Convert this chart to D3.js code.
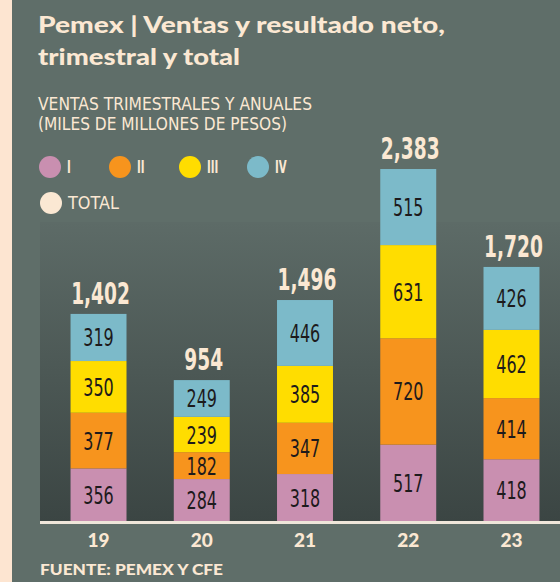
<!DOCTYPE html>
<html><head><meta charset="utf-8">
<script src="https://cdn.jsdelivr.net/npm/d3@7"></script>
<style>
html,body{margin:0;padding:0;background:#5f6e69;}
svg{display:block;}
.cond{font-family:"DejaVu Sans","Noto Sans",sans-serif;}
.geo{font-family:"Lato","Open Sans","Noto Sans",sans-serif;}
</style></head>
<body>
<svg id="chart" width="560" height="582"></svg>
<script>
const years = ["19","20","21","22","23"];
const q1 = [356, 284, 318, 517, 418];
const q2 = [377, 182, 347, 720, 414];
const q3 = [350, 239, 385, 631, 462];
const q4 = [319, 249, 446, 515, 426];
const totals = [1402, 954, 1496, 2383, 1720];
const seriesNames = ["I","II","III","IV"];
const seriesColors = ["#c98fb0","#f7941d","#ffdd00","#7cbac9"];

const svg = d3.select("#chart");
const W = 560, H = 582;
const cream = "#fbe8d3";

// condensed text helper
function ctext(parent, x, y, txt, opts){
  const g = parent.append("g").attr("transform",`translate(${x},${y}) scale(${opts.sx||0.65},1)`);
  const t = g.append("text").attr("class","cond").attr("x",0).attr("y",0)
    .attr("text-anchor",opts.anchor||"middle").attr("fill",opts.fill)
    .attr("font-size",opts.size).attr("font-weight",opts.weight||400).text(txt);
  if(opts.dy) t.attr("dy",opts.dy);
  return t;
}

// background
const defs = svg.append("defs");
const g1 = defs.append("linearGradient").attr("id","panel").attr("x1",0).attr("y1",0).attr("x2",0).attr("y2",1);
g1.append("stop").attr("offset","0%").attr("stop-color","#5d6b67");
g1.append("stop").attr("offset","100%").attr("stop-color","#3b4543");
svg.append("rect").attr("width",W).attr("height",H).attr("fill","#5f6e69");
svg.append("rect").attr("x",0).attr("y",0).attr("width",12).attr("height",H).attr("fill","#fde5d1");
svg.append("rect").attr("x",40).attr("y",222).attr("width",W-40).attr("height",300).attr("fill","url(#panel)");

// title
svg.append("text").attr("class","geo").attr("x",38).attr("y",33).attr("fill",cream)
  .attr("font-size",22).attr("font-weight",900).attr("textLength",407).attr("lengthAdjust","spacingAndGlyphs")
  .text("Pemex | Ventas y resultado neto,");
svg.append("text").attr("class","geo").attr("x",38).attr("y",65).attr("fill",cream)
  .attr("font-size",22).attr("font-weight",900).attr("textLength",202).attr("lengthAdjust","spacingAndGlyphs")
  .text("trimestral y total");
svg.append("text").attr("class","cond").attr("x",38).attr("y",110).attr("fill",cream)
  .attr("font-size",18).attr("textLength",274).attr("lengthAdjust","spacingAndGlyphs")
  .text("VENTAS TRIMESTRALES Y ANUALES");
svg.append("text").attr("class","cond").attr("x",38).attr("y",130).attr("fill",cream)
  .attr("font-size",18).attr("textLength",249).attr("lengthAdjust","spacingAndGlyphs")
  .text("(MILES DE MILLONES DE PESOS)");

// legend
const legX = [50,120,190,258];
seriesNames.forEach((n,i)=>{
  svg.append("circle").attr("cx",legX[i]).attr("cy",167).attr("r",11).attr("fill",seriesColors[i]);
  ctext(svg, legX[i]+17, 173, n, {anchor:"start", fill:cream, size:17, weight:700, sx:0.6});
});
svg.append("circle").attr("cx",51).attr("cy",203).attr("r",11).attr("fill",cream);
svg.append("text").attr("class","cond").attr("x",68).attr("y",209).attr("fill",cream)
  .attr("font-size",17).attr("textLength",51).attr("lengthAdjust","spacingAndGlyphs").text("TOTAL");

// scales
const x = d3.scaleBand().domain(years).range([46.9,563.1]).paddingInner(0.458).paddingOuter(0.229);
const y = d3.scaleLinear().domain([0,2400]).range([521,166.5]);

const data = years.map((yr,i)=>({year:yr, I:q1[i], II:q2[i], III:q3[i], IV:q4[i], total:totals[i]}));
const stack = d3.stack().keys(seriesNames)(data);

const layers = svg.append("g").selectAll("g").data(stack).join("g").attr("fill",(d,i)=>seriesColors[i]);
layers.selectAll("rect").data(d=>d).join("rect")
  .attr("x",d=>x(d.data.year)).attr("width",x.bandwidth())
  .attr("y",d=>y(d[1])).attr("height",d=>y(d[0])-y(d[1]));

const lab = svg.append("g");
stack.forEach(layer=>{
  layer.forEach(d=>{
    ctext(lab, x(d.data.year)+x.bandwidth()/2, (y(d[0])+y(d[1]))/2, d3.format(",")(d[1]-d[0]),
      {fill:"#1d1a1c", size:25, sx:0.64, dy:"0.36em"});
  });
});
data.forEach(d=>{
  ctext(svg, x(d.year)+x.bandwidth()/2+2, y(d.total)-10, d3.format(",")(d.total),
    {fill:cream, size:30, weight:700, sx:0.62});
});

// baseline
svg.append("line").attr("x1",40).attr("x2",W).attr("y1",522.5).attr("y2",522.5).attr("stroke","#efe6da").attr("stroke-width",3);

// x axis labels
const xAxis = d3.axisBottom(x).tickSize(0).tickPadding(0);
const ax = svg.append("g").attr("transform","translate(0,547)").call(xAxis);
ax.select(".domain").remove();
ax.selectAll("text").attr("class","geo").attr("fill",cream).attr("font-size",19).attr("font-weight",900).attr("dy",0).attr("y",0);

svg.append("text").attr("class","geo").attr("x",40).attr("y",575).attr("fill",cream)
  .attr("font-size",15).attr("font-weight",900).attr("textLength",183).attr("lengthAdjust","spacingAndGlyphs")
  .text("FUENTE: PEMEX Y CFE");
</script>
</body></html>
